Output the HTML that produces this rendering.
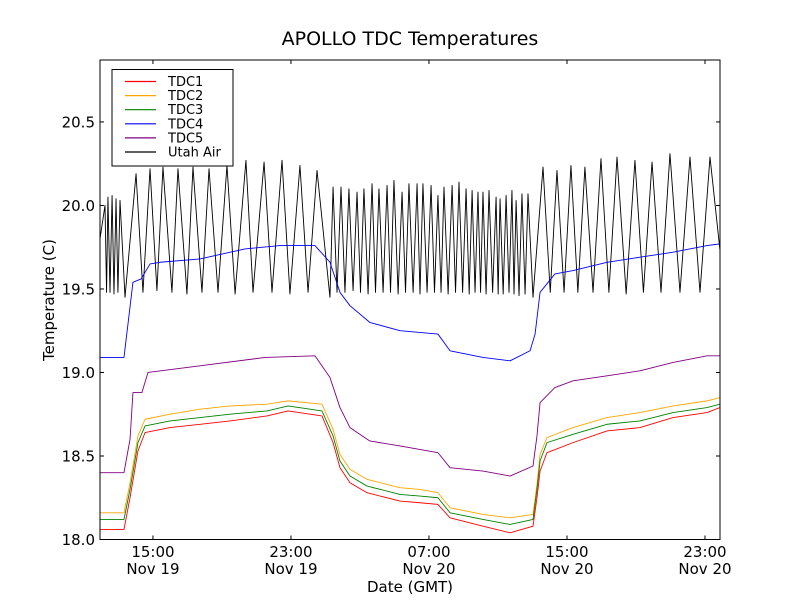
<!DOCTYPE html>
<html><head><meta charset="utf-8"><style>
body{margin:0;background:#fff;}
svg{display:block;font-family:"DejaVu Sans","Liberation Sans",sans-serif;}
</style></head><body>
<svg id="chart" width="800" height="600" viewBox="0 0 800 600">
<rect width="800" height="600" fill="#fff"/>
<defs><clipPath id="clip"><rect x="100" y="60" width="620" height="480"/></clipPath></defs>
<text x="410" y="45" font-size="19" text-anchor="middle">APOLLO TDC Temperatures</text>
<text x="410" y="592" font-size="15" text-anchor="middle">Date (GMT)</text>
<text transform="translate(54,300) rotate(-90)" font-size="15" text-anchor="middle">Temperature (C)</text>
<g id="series" clip-path="url(#clip)"></g>
<g id="axes"></g>
<rect x="100" y="60" width="620" height="479.5" fill="none" stroke="#000" stroke-width="1"/>
<g id="legend"></g>
</svg>
<script>
// ---- data (times in clock hours since Nov 19 00:00) ----
const tdcT = [11.93,13.32,13.67,14.13,14.54,15.99,17.73,19.47,21.61,22.83,24.80,25.44,25.84,26.42,27.41,29.32,30.48,31.52,32.22,34.13,35.70,37.03,37.26,37.44,37.84,39.35,41.32,43.23,45.15,47.12,47.87];
const tdc1V = [18.06,18.06,18.25,18.53,18.64,18.67,18.69,18.71,18.74,18.77,18.74,18.58,18.43,18.34,18.28,18.23,18.22,18.21,18.13,18.08,18.04,18.08,18.25,18.41,18.52,18.58,18.65,18.67,18.73,18.76,18.79];
const tdc2V = [18.16,18.16,18.34,18.62,18.72,18.75,18.78,18.80,18.81,18.83,18.81,18.66,18.51,18.42,18.36,18.31,18.30,18.28,18.19,18.15,18.13,18.15,18.33,18.51,18.61,18.67,18.73,18.76,18.80,18.83,18.85];
const tdc3V = [18.12,18.12,18.30,18.58,18.68,18.71,18.73,18.75,18.77,18.80,18.77,18.62,18.47,18.38,18.32,18.27,18.26,18.25,18.16,18.12,18.09,18.12,18.30,18.47,18.58,18.63,18.69,18.71,18.76,18.79,18.81];
const tdc4T = [11.93,13.32,13.84,14.31,14.83,15.41,17.73,20.34,22.36,24.39,25.26,25.84,26.42,27.57,29.32,31.52,32.22,34.13,35.70,36.86,37.15,37.44,38.30,39.35,41.32,43.23,45.15,47.12,47.87];
const tdc4V = [19.09,19.09,19.54,19.56,19.65,19.66,19.68,19.74,19.76,19.76,19.66,19.48,19.40,19.30,19.25,19.23,19.13,19.09,19.07,19.13,19.23,19.48,19.59,19.61,19.66,19.69,19.72,19.76,19.77];
const tdc5T = [11.93,13.32,13.67,13.84,14.36,14.71,17.73,21.50,24.39,25.26,25.84,26.42,27.57,29.32,31.52,32.22,34.13,35.70,37.03,37.26,37.44,38.30,39.35,41.32,43.23,45.15,47.12,47.87];
const tdc5V = [18.40,18.40,18.60,18.88,18.88,19.00,19.04,19.09,19.10,18.97,18.79,18.67,18.59,18.56,18.52,18.43,18.41,18.38,18.44,18.62,18.82,18.91,18.95,18.98,19.01,19.06,19.10,19.10];
const airPeakT = [12.22,12.39,12.63,12.86,13.09, 14.02,14.83,15.58,16.45,17.32,18.25,19.29,20.39,21.44,22.48,23.52,24.51, 25.44,25.90,26.36,26.83,27.23,27.70,28.10,28.57,28.97,29.44,29.84,30.31,30.65,31.12,31.52,31.87,32.34,32.74,33.15,33.50,33.84,34.13,34.48,34.89,35.12,35.47,35.81,36.05,36.39,36.74, 37.61,38.42,39.23,40.04,40.97,41.90,42.94,43.93,44.97,46.13,47.29];
const airPeakV = [20.00,20.05,20.06,20.04,20.03, 20.19,20.22,20.23,20.22,20.23,20.22,20.24,20.27,20.26,20.27,20.24,20.21, 20.11,20.11,20.10,20.08,20.10,20.13,20.10,20.12,20.15,20.08,20.13,20.13,20.13,20.12,20.06,20.11,20.12,20.14,20.10,20.09,20.08,20.08,20.09,20.05,20.04,20.06,20.09,20.03,20.07,20.07, 20.23,20.21,20.24,20.23,20.28,20.29,20.27,20.26,20.31,20.29,20.29];
const airTroughT = [11.93,12.31,12.51,12.74,12.97,13.38, 14.42,15.23,16.10,16.97,17.84,18.77,19.76,20.80,21.90,22.94,23.99,25.26, 25.67,26.13,26.60,27.03,27.47,27.90,28.34,28.77,29.21,29.64,30.08,30.48,30.89,31.32,31.70,32.11,32.54,32.95,33.33,33.67,33.99,34.31,34.69,35.01,35.30,35.64,35.93,36.22,36.57,37.03, 38.03,38.83,39.63,40.51,41.43,42.43,43.43,44.45,45.55,46.71,47.87];
const airTroughV = [19.80,19.48,19.48,19.47,19.48,19.45, 19.48,19.49,19.48,19.47,19.48,19.48,19.47,19.48,19.48,19.47,19.48,19.45, 19.48,19.48,19.49,19.48,19.47,19.48,19.48,19.48,19.47,19.48,19.48,19.47,19.48,19.48,19.48,19.47,19.48,19.48,19.47,19.48,19.48,19.47,19.48,19.47,19.47,19.48,19.47,19.46,19.47,19.45, 19.48,19.48,19.48,19.48,19.48,19.47,19.48,19.48,19.48,19.48,19.73];
const xTicks = [15,23,31,39,47];
const xTickTop = ["15:00","23:00","07:00","15:00","23:00"];
const xTickBottom = ["Nov 19","Nov 19","Nov 20","Nov 20","Nov 20"];
const yTicks = [18.0,18.5,19.0,19.5,20.0,20.5];
const seriesNames = ["TDC1","TDC2","TDC3","TDC4","TDC5","Utah Air"];

const NS="http://www.w3.org/2000/svg";
const X0=100,X1=720,Y0=539.5,YT=60;
const tMin=11.93,tMax=47.87,vMin=18.0,vMax=20.871;
function xs(t){return X0+(t-tMin)/(tMax-tMin)*(X1-X0);}
function ys(v){return Y0-(v-vMin)/(vMax-vMin)*(Y0-YT);}
function mk(tag,attrs,parent){const e=document.createElementNS(NS,tag);for(const k in attrs)e.setAttribute(k,attrs[k]);parent.appendChild(e);return e;}

const air=[];
airPeakT.forEach((t,i)=>air.push([t,airPeakV[i]]));
airTroughT.forEach((t,i)=>air.push([t,airTroughV[i]]));
air.sort((a,b)=>a[0]-b[0]);

const sg=document.getElementById('series');
function line(T,V,color,name){
  const d=T.map((t,i)=>(i?'L':'M')+xs(t).toFixed(2)+' '+ys(V[i]).toFixed(2)).join(' ');
  const p=mk('path',{d:d,fill:'none',stroke:color,'stroke-width':0.9,'stroke-linejoin':'round'},sg);
  
  
}
line(air.map(a=>a[0]),air.map(a=>a[1]),'#000','series-utah-air');
line(tdc4T,tdc4V,'#0000ff','series-tdc4');
line(tdc5T,tdc5V,'#800080','series-tdc5');
line(tdcT,tdc2V,'#ffa500','series-tdc2');
line(tdcT,tdc3V,'#008000','series-tdc3');
line(tdcT,tdc1V,'#ff0000','series-tdc1');

const ax=document.getElementById('axes');
xTicks.forEach((t,i)=>{
  const x=xs(t);
  mk('line',{x1:x,x2:x,y1:Y0,y2:Y0-4,stroke:'#000'},ax);
  mk('line',{x1:x,x2:x,y1:YT,y2:YT+4,stroke:'#000'},ax);
  const a=mk('text',{x:x,y:557,'font-size':15,'text-anchor':'middle'},ax);a.textContent=xTickTop[i];
  
  
  const b=mk('text',{x:x,y:574,'font-size':15,'text-anchor':'middle'},ax);b.textContent=xTickBottom[i];
  
  
});
yTicks.forEach(v=>{
  const y=ys(v);
  mk('line',{x1:X0,x2:X0+4,y1:y,y2:y,stroke:'#000'},ax);
  mk('line',{x1:X1,x2:X1-4,y1:y,y2:y,stroke:'#000'},ax);
  const a=mk('text',{x:95,y:y+5.5,'font-size':15,'text-anchor':'end'},ax);a.textContent=v.toFixed(1);
  
  
});

const lg=document.getElementById('legend');
const box=mk('rect',{x:112,y:69.5,width:121,height:96.5,fill:'#fff',stroke:'#000','stroke-width':1},lg);


const colors=['#ff0000','#ffa500','#008000','#0000ff','#800080','#000000'];
seriesNames.forEach((n,i)=>{
  const y=81.5+i*14.1;
  const ln=mk('line',{x1:125,x2:156,y1:y,y2:y,'stroke-width':1.2},lg);
  ln.style.stroke=colors[i];
  
  
  const t=mk('text',{x:168,y:y+4.5,'font-size':13},lg);t.textContent=n;
  
  
});
</script>
</body></html>
